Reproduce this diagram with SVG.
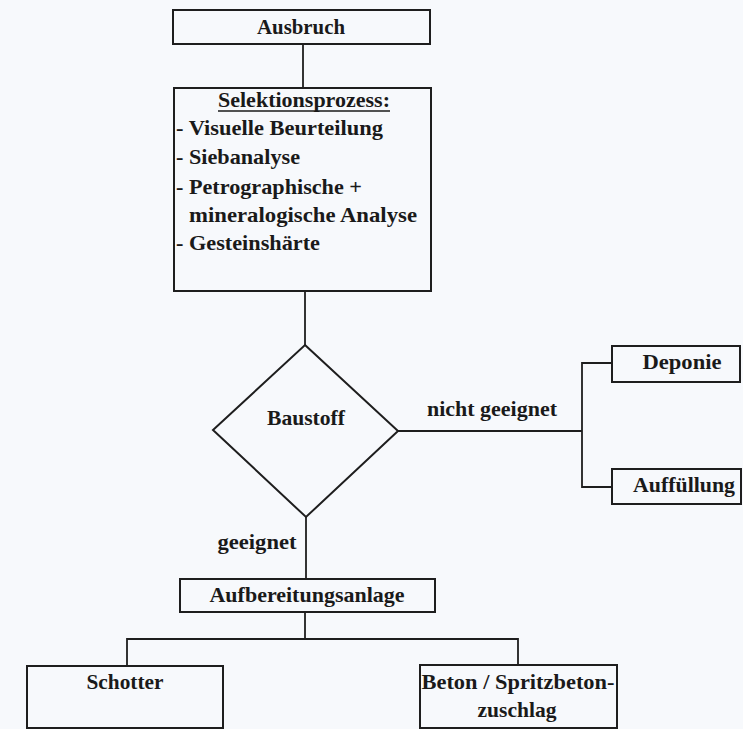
<svg xmlns="http://www.w3.org/2000/svg" width="743" height="729" viewBox="0 0 743 729">
  <style>
    .bg { fill: #f7f9fc; }
    .box { fill: none; stroke: #1e1e1e; stroke-width: 2; }
    .ln { fill: none; stroke: #1e1e1e; stroke-width: 1.8; }
    text { font-family: "Liberation Serif", "Times New Roman", serif; font-size: 21px; font-weight: bold; fill: #1a1a1a; }
    .c { text-anchor: middle; }
  </style>

  <rect class="bg" x="0" y="0" width="743" height="729"/>

  <!-- connectors and their labels -->
  <g id="connectors">
    <line class="ln" x1="303" y1="44" x2="303" y2="88"/>
    <line class="ln" x1="305" y1="291" x2="305" y2="345"/>
    <polyline class="ln" points="398,431 582,431"/>
    <polyline class="ln" points="612,363 582,363 582,487 612,487"/>
    <line class="ln" x1="306" y1="517" x2="306" y2="579"/>
    <line class="ln" x1="305" y1="612" x2="305" y2="639"/>
    <polyline class="ln" points="127,666 127,639 518,639 518,665"/>
    <text x="257" y="549" class="c" textLength="79" lengthAdjust="spacingAndGlyphs">geeignet</text>
    <text x="427" y="416" textLength="130" lengthAdjust="spacingAndGlyphs">nicht geeignet</text>
  </g>

  <g id="ausbruch">
    <rect class="box" x="173" y="10" width="257" height="34"/>
    <text x="301" y="34" class="c" textLength="88" lengthAdjust="spacingAndGlyphs">Ausbruch</text>
  </g>

  <g id="selektion">
    <rect class="box" x="174" y="88" width="257" height="203"/>
    <text x="304" y="107" class="c" textLength="172" lengthAdjust="spacingAndGlyphs">Selektionsprozess:</text>
    <line x1="218" y1="111" x2="390" y2="111" stroke="#1a1a1a" stroke-width="1.4"/>
    <text x="176" y="135" textLength="207" lengthAdjust="spacingAndGlyphs">- Visuelle Beurteilung</text>
    <text x="176" y="164" textLength="124" lengthAdjust="spacingAndGlyphs">- Siebanalyse</text>
    <text x="176" y="194" textLength="186" lengthAdjust="spacingAndGlyphs">- Petrographische +</text>
    <text x="189" y="222" textLength="228" lengthAdjust="spacingAndGlyphs">mineralogische Analyse</text>
    <text x="176" y="250" textLength="144" lengthAdjust="spacingAndGlyphs">- Gesteinshärte</text>
  </g>

  <g id="baustoff">
    <polygon class="box" points="305,345 398,431 306,517 213,430"/>
    <text x="306" y="425" class="c" textLength="78" lengthAdjust="spacingAndGlyphs">Baustoff</text>
  </g>

  <g id="deponie">
    <rect class="box" x="612" y="346" width="128" height="36"/>
    <text x="682" y="369" class="c" textLength="79" lengthAdjust="spacingAndGlyphs">Deponie</text>
  </g>

  <g id="auffuellung">
    <rect class="box" x="612" y="469" width="129" height="35"/>
    <text x="684" y="492" class="c" textLength="102" lengthAdjust="spacingAndGlyphs">Auffüllung</text>
  </g>

  <g id="aufbereitungsanlage">
    <rect class="box" x="180" y="579" width="255" height="33"/>
    <text x="307" y="602" class="c" textLength="195" lengthAdjust="spacingAndGlyphs">Aufbereitungsanlage</text>
  </g>

  <g id="schotter">
    <rect class="box" x="27" y="666" width="196" height="62"/>
    <text x="125" y="689" class="c" textLength="77" lengthAdjust="spacingAndGlyphs">Schotter</text>
  </g>

  <g id="beton">
    <rect class="box" x="420" y="665" width="197" height="63"/>
    <text x="518" y="689" class="c" textLength="193" lengthAdjust="spacingAndGlyphs">Beton / Spritzbeton-</text>
    <text x="517" y="717" class="c" textLength="79" lengthAdjust="spacingAndGlyphs">zuschlag</text>
  </g>
</svg>
